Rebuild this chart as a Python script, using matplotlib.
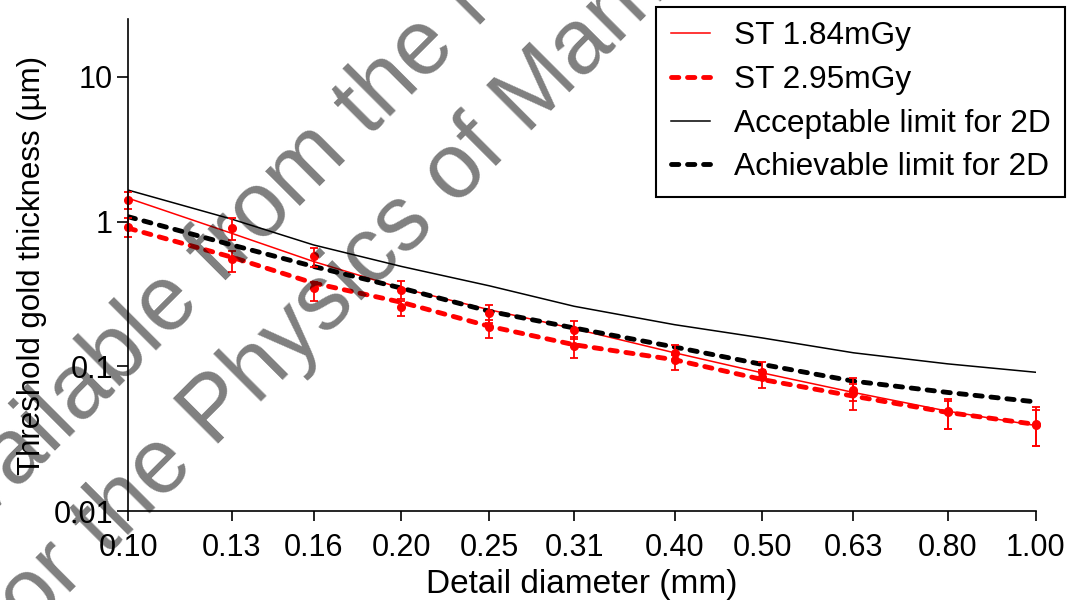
import matplotlib
matplotlib.use("Agg")
import matplotlib.pyplot as plt
from matplotlib.ticker import NullLocator

plt.rcParams['font.family'] = ['Liberation Sans', 'DejaVu Sans']

# detail diameters (mm) and their tick labels
diam = [0.10, 0.13, 0.16, 0.20, 0.25, 0.31, 0.40, 0.50, 0.63, 0.80, 1.00]
x_labels = ['0.10', '0.13', '0.16', '0.20', '0.25', '0.31', '0.40', '0.50', '0.63', '0.80', '1.00']
y_ticks = [0.01, 0.1, 1, 10]
y_labels = ['0.01', '0.1', '1', '10']

# measured threshold gold thickness (um), with error bar limits
st184 = [1.41, 0.90, 0.574, 0.338, 0.234, 0.179, 0.124, 0.092, 0.069, 0.049, 0.0397]
st184_lo = [1.22, 0.75, 0.482, 0.293, 0.200, 0.155, 0.110, 0.080, 0.058, 0.037, 0.028]
st184_hi = [1.61, 1.055, 0.662, 0.386, 0.267, 0.205, 0.140, 0.107, 0.083, 0.059, 0.052]
st295 = [0.924, 0.551, 0.345, 0.259, 0.186, 0.139, 0.111, 0.085, 0.0657, 0.048, 0.039]
st295_lo = [0.788, 0.452, 0.284, 0.221, 0.157, 0.114, 0.094, 0.071, 0.050, 0.037, 0.028]
st295_hi = [1.055, 0.631, 0.380, 0.281, 0.210, 0.160, 0.120, 0.095, 0.075, 0.058, 0.050]

# fitted curves and limits
fit184 = [1.45, 0.83, 0.53, 0.347, 0.246, 0.182, 0.124, 0.090, 0.066, 0.049, 0.039]
fit295 = [0.90, 0.568, 0.376, 0.277, 0.189, 0.141, 0.111, 0.081, 0.0622, 0.048, 0.0397]
acceptable = [1.65, 1.04, 0.69, 0.49, 0.36, 0.26, 0.194, 0.157, 0.124, 0.104, 0.091]
achievable = [1.08, 0.69, 0.49, 0.347, 0.24, 0.184, 0.136, 0.103, 0.079, 0.066, 0.0568]

W, H = 1067, 600
fig = plt.figure(figsize=(W / 100, H / 100), dpi=100)
ax = fig.add_axes([0.1203, 0.1483, 0.8502, 0.8195])

dash = dict(lw=3.5, dashes=(1.5, 1.8), dash_capstyle='round')
ax.plot(diam, fit184, color='red', lw=1.1, label='ST 1.84mGy')
ax.plot(diam, fit295, color='red', label='ST 2.95mGy', **dash)
ax.plot(diam, acceptable, color='black', lw=1.1, label='Acceptable limit for 2D')
ax.plot(diam, achievable, color='black', label='Achievable limit for 2D', **dash)

for vals, lo, hi in [(st184, st184_lo, st184_hi), (st295, st295_lo, st295_hi)]:
    err = [[v - l for v, l in zip(vals, lo)], [h - v for v, h in zip(vals, hi)]]
    eb = ax.errorbar(diam, vals, yerr=err, fmt='o', color='red', ms=5.5,
                     capsize=3, elinewidth=1.3, capthick=1.3)
    for a in eb.get_children():
        a.set_clip_on(False)

ax.set_xscale('log')
ax.set_yscale('log')
ax.set_xlim(0.1, 1.0)
ax.set_ylim(0.01, 25)
ax.set_xticks(diam, labels=x_labels)
ax.set_yticks(y_ticks, labels=y_labels)
ax.xaxis.set_minor_locator(NullLocator())
ax.yaxis.set_minor_locator(NullLocator())

for s in ['top', 'right']:
    ax.spines[s].set_visible(False)
for s in ['left', 'bottom']:
    ax.spines[s].set_linewidth(1.2)
ax.tick_params(axis='both', direction='out', width=1.2, labelsize=22)
ax.tick_params(axis='y', length=8, pad=3)
ax.tick_params(axis='x', length=7, pad=9)
ax.set_xlabel('Detail diameter (mm)', fontsize=24, labelpad=4)
ax.set_ylabel('Threshold gold thickness (\u00b5m)', fontsize=22.5, labelpad=5)

h, l = ax.get_legend_handles_labels()
leg = fig.legend(h, l, loc='upper right', bbox_to_anchor=(0.998, 0.988), fontsize=22.8,
                 frameon=True, fancybox=False, edgecolor='black', framealpha=1,
                 handlelength=1.25, handletextpad=0.75, borderpad=0.45, labelspacing=0.43,
                 borderaxespad=0)
leg.get_frame().set_linewidth(1.5)
leg.set_zorder(5)

# watermark
wm = dict(fontsize=66, color='black', alpha=0.5, rotation=45,
          rotation_mode='anchor', va='baseline', zorder=3)
fig.text(458 / W, 1 - 48 / H, 'Only available from the', ha='right', **wm)
fig.text(476 / W, 1 - 30 / H, 'National Co-ordinating Centre', ha='left', **wm)
fig.text(196 / W, 1 - 467 / H, 'for the', ha='right', **wm)
fig.text(214 / W, 1 - 449 / H, 'Physics of Mammography', ha='left', **wm)

fig.savefig('out.png', dpi=100)
